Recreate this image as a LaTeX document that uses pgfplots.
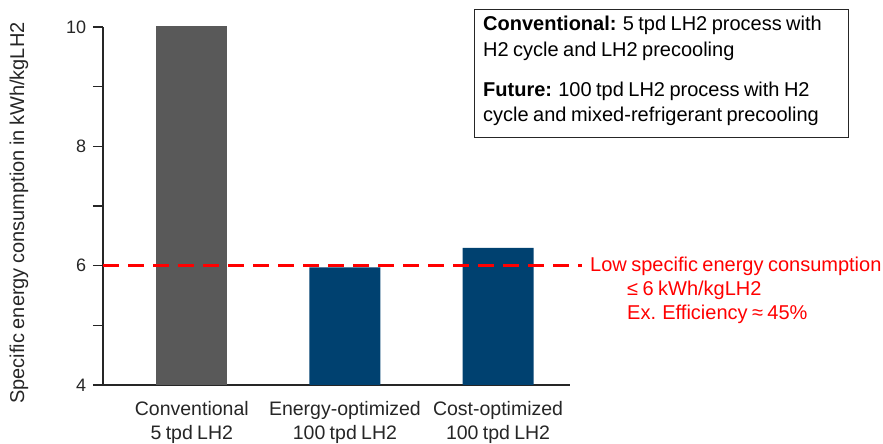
\documentclass[border=0pt]{standalone}
\usepackage{pgfplots}
\pgfplotsset{compat=1.18}
\usepackage{fontspec}
\setmainfont{Liberation Sans}[WordSpace=0.8]
\definecolor{barGray}{RGB}{89,89,89}
\definecolor{barNavy}{RGB}{0,65,112}
\definecolor{lineRed}{RGB}{255,0,0}
\definecolor{txt}{RGB}{38,38,38}

\begin{document}
\fontsize{20bp}{24bp}\selectfont
\begin{tikzpicture}
\begin{axis}[
  name=ax,
  scale only axis,
  width=467bp, height=358bp,
  xmin=-0.58, xmax=2.47,
  ymin=4, ymax=10,
  axis x line*=bottom, axis y line*=left,
  axis line style={line width=1.2bp, color=txt, -},
  xtick={0,1,2},
  xticklabels={Conventional\\5 tpd LH2, Energy-optimized\\100 tpd LH2, Cost-optimized\\100 tpd LH2},
  xticklabel style={align=center, font=\fontsize{19.5bp}{24bp}\selectfont, text=txt},
  x tick style={draw=none},
  ytick={4,6,8,10},
  minor ytick={5,7,9},
  tick align=outside,
  major tick length=10bp, minor tick length=10bp,
  y tick style={line width=1.2bp, color=txt},
  yticklabel style={font=\fontsize{18bp}{22bp}\selectfont, text=txt},
  /pgf/number format/assume math mode=true,
  clip mode=individual,
]
% conventional process
\addplot[ybar, bar width=71bp, bar shift=0pt, fill=barGray, draw=none] coordinates {(0,10.02)};
% future processes
\addplot[ybar, bar width=71bp, bar shift=0pt, fill=barNavy, draw=none] coordinates {(1,5.97) (2,6.30)};
% 6 kWh/kgLH2 target
\addplot[lineRed, line width=3bp, dash pattern=on 16bp off 9bp, clip=false] coordinates {(-0.58,6) (2.55,6)};
\end{axis}
\begin{scope}[shift={(ax.south west)}, x=1bp, y=1bp]
\node[rotate=90, anchor=center, text=txt, inner sep=0pt, font=\fontsize{20bp}{24bp}\selectfont] at (-84,172) {Specific energy consumption in kWh/kgLH2};
\draw[line width=1bp, color=txt] (371,247) rectangle (745,375);
\begin{scope}[every node/.style={anchor=base west, inner sep=0pt, font=\fontsize{20bp}{24bp}\selectfont}]
\node at (380,354) {\textbf{Conventional:} 5 tpd LH2 process with};
\node at (380,328) {H2 cycle and LH2 precooling};
\node at (380,288) {\textbf{Future:} 100 tpd LH2 process with H2};
\node at (380,263) {cycle and mixed-refrigerant precooling};
\node[text=lineRed] at (487,113) {Low specific energy consumption};
\node[text=lineRed] at (524,89) {≤ 6 kWh/kgLH2};
\node[text=lineRed] at (524,65) {Ex. Efficiency ≈ 45\%};
\end{scope}
\pgfresetboundingbox
\path[use as bounding box] (-103,-59) rectangle (780,385);
\end{scope}
\end{tikzpicture}
\end{document}
